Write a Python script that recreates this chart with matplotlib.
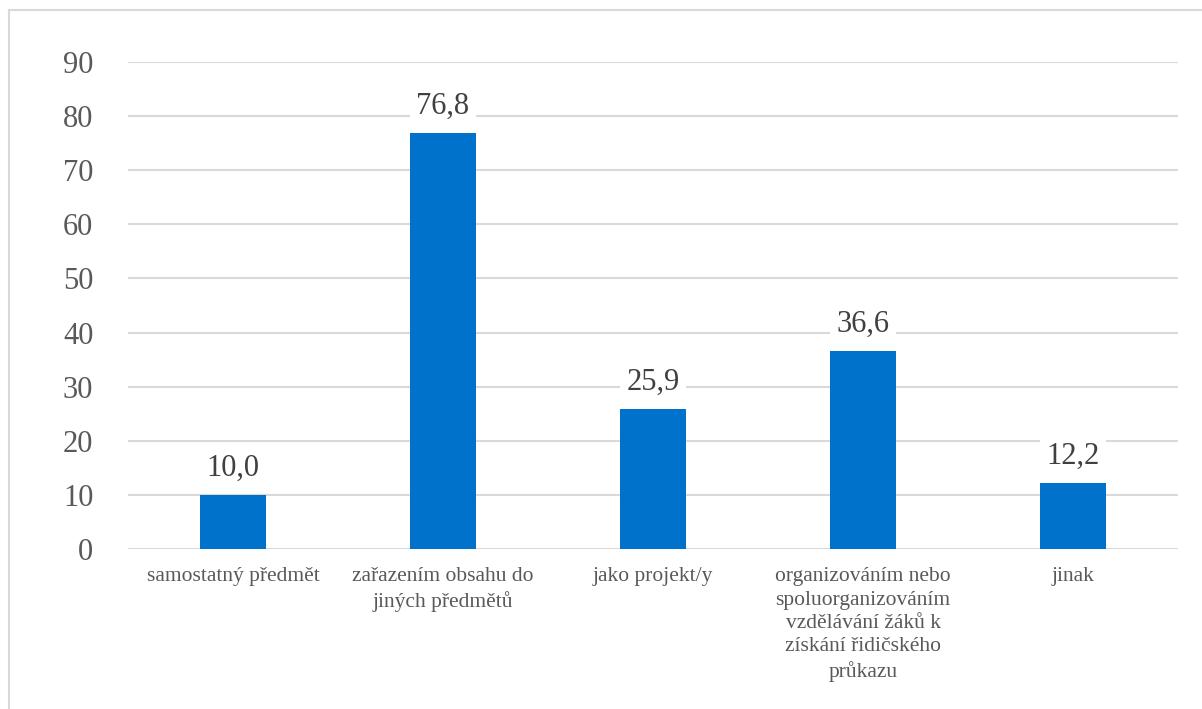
import matplotlib.pyplot as plt
from matplotlib.lines import Line2D

# data
kategorie = ['samostatný předmět',
             'zařazením obsahu do\njiných předmětů',
             'jako projekt/y',
             'organizováním nebo\nspoluorganizováním\nvzdělávání žáků k\nzískání řidičského\nprůkazu',
             'jinak']
hodnoty = [10.0, 76.8, 25.9, 36.6, 12.2]
yticks = [0, 10, 20, 30, 40, 50, 60, 70, 80, 90]

seda = '#595959'
plt.rcParams['font.family'] = ['Liberation Serif', 'DejaVu Serif']

fig = plt.figure(figsize=(12.02, 7.09), dpi=100)
ax = fig.add_axes([128/1202, 1-549/709, 1050/1202, 487/709])

x = range(len(kategorie))
ax.bar(x, hodnoty, width=0.314, color='#0072CC', zorder=3)
ax.set_xlim(-0.5, len(kategorie)-0.5)
ax.set_ylim(0, 90)
ax.set_yticks(yticks)
ax.set_yticklabels([str(t) for t in yticks], fontsize=22, color=seda, fontfamily='Liberation Serif')
ax.set_xticks(list(x))
ax.set_xticklabels(kategorie, fontsize=15.5, color=seda, linespacing=1.32, va='top',
                   fontfamily='Liberation Serif')
ax.tick_params(axis='both', length=0)
ax.tick_params(axis='y', pad=25)
ax.tick_params(axis='x', pad=13)
ax.grid(axis='y', color='#D9D9D9', lw=1.5, zorder=0)
for s in ax.spines.values():
    s.set_visible(False)

# popisky hodnot
for i, v in enumerate(hodnoty):
    ax.annotate(f'{v:.1f}'.replace('.', ','), (i, v), xytext=(0, 9), textcoords='offset points',
                ha='center', va='bottom', fontsize=22, color='#404040', zorder=4,
                fontfamily='Liberation Serif',
                bbox=dict(boxstyle='square,pad=0.2', fc='white', ec='none'))

# ramecek grafu (orezany vpravo a dole)
fig.add_artist(Line2D([9/1202, 1.0], [1-10/709, 1-10/709], color='#D9D9D9', lw=1.5, transform=fig.transFigure))
fig.add_artist(Line2D([9/1202, 9/1202], [0.0, 1-10/709], color='#D9D9D9', lw=1.5, transform=fig.transFigure))

fig.savefig('out.png', dpi=100)
